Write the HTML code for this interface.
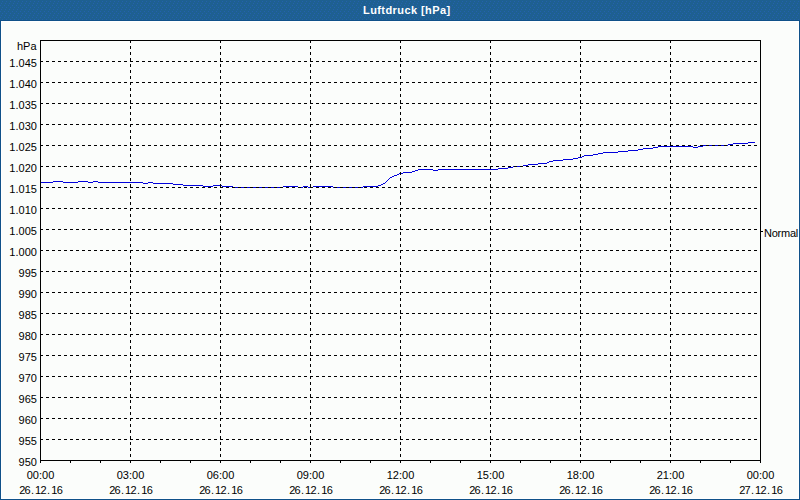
<!DOCTYPE html>
<html><head><meta charset="utf-8"><style>
html,body{margin:0;padding:0;background:#fbfdfb;}
svg{display:block;}
text{font-family:"Liberation Sans",sans-serif;font-size:11px;fill:#000;}
</style></head><body>
<svg width="800" height="500" viewBox="0 0 800 500">
<rect x="0" y="0" width="800" height="500" fill="#fbfdfb"/>
<defs><pattern id="dots" x="0" y="0" width="4" height="6" patternUnits="userSpaceOnUse"><rect width="4" height="6" fill="#1e6091"/><rect x="0" y="5" width="1" height="1" fill="#2461ae"/><rect x="2" y="1" width="1" height="1" fill="#2461ae"/><rect x="1" y="3" width="1" height="1" fill="#2461ae"/></pattern></defs>
<rect x="0" y="0" width="800" height="20" fill="url(#dots)" shape-rendering="crispEdges"/>
<rect x="0" y="20" width="800" height="1" fill="#0f5189"/>
<rect x="1" y="21" width="797" height="477" fill="none" stroke="#fff" stroke-width="1" transform="translate(0.5 0.5)" shape-rendering="crispEdges"/>
<rect x="0" y="20" width="1" height="480" fill="#0f5189"/>
<rect x="799" y="20" width="1" height="480" fill="#0f5189"/>
<rect x="0" y="499" width="800" height="1" fill="#0f5189"/>
<text x="406.8" y="14" text-anchor="middle" style="font-weight:bold;fill:#fff;letter-spacing:0.42px">Luftdruck [hPa]</text>
<path d="M41 182h12v1h-12zM53 181h10v1h-10zM63 182h15v1h-15zM78 181h10v1h-10zM88 182h5v1h-5zM93 181h5v1h-5zM98 182h45v1h-45zM143 183h5v1h-5zM148 182h5v1h-5zM153 183h20v1h-20zM173 184h10v1h-10zM183 185h20v1h-20zM203 186h10v1h-10zM213 185h9v1h-9zM222 186h11v1h-11zM233 187h50v1h-50zM283 186h15v1h-15zM298 187h5v1h-5zM303 186h5v1h-5zM308 187h5v1h-5zM313 186h20v1h-20zM333 187h30v1h-30zM363 186h15v1h-15zM378 185h3v1h-3zM381 184h2v1h-2zM383 183h2v1h-2zM385 182h1v1h-1zM386 181h1v1h-1zM387 180h1v1h-1zM388 179h1v1h-1zM389 178h1v1h-1zM390 177h2v1h-2zM392 176h2v1h-2zM394 175h3v1h-3zM397 174h2v1h-2zM399 173h4v1h-4zM403 172h9v1h-9zM412 171h3v1h-3zM415 170h3v1h-3zM418 169h15v1h-15zM433 170h5v1h-5zM438 169h60v1h-60zM498 168h10v1h-10zM508 167h5v1h-5zM513 166h10v1h-10zM523 165h5v1h-5zM528 164h10v1h-10zM538 163h9v1h-9zM547 162h2v1h-2zM549 161h4v1h-4zM553 160h10v1h-10zM563 159h10v1h-10zM573 158h5v1h-5zM578 157h4v1h-4zM582 156h2v1h-2zM584 155h9v1h-9zM593 154h5v1h-5zM598 153h5v1h-5zM603 152h15v1h-15zM618 151h10v1h-10zM628 150h10v1h-10zM638 149h5v1h-5zM643 148h10v1h-10zM653 147h5v1h-5zM658 146h35v1h-35zM693 147h5v1h-5zM698 146h5v1h-5zM703 145h25v1h-25zM728 144h5v1h-5zM733 143h15v1h-15zM748 142h7v1h-7z" fill="#0202dc" shape-rendering="crispEdges"/>
<path d="M40 61.5H760M40 82.5H760M40 103.5H760M40 124.5H760M40 145.5H760M40 166.5H760M40 187.5H760M40 208.5H760M40 229.5H760M40 250.5H760M40 271.5H760M40 292.5H760M40 313.5H760M40 334.5H760M40 355.5H760M40 376.5H760M40 397.5H760M40 418.5H760M40 439.5H760M130.5 40V460M220.5 40V460M310.5 40V460M400.5 40V460M490.5 40V460M580.5 40V460M670.5 40V460" stroke="#000" stroke-width="1" stroke-dasharray="3 3" fill="none" shape-rendering="crispEdges"/>
<rect x="40.5" y="40.5" width="720" height="420" stroke="#000" stroke-width="1" fill="none" shape-rendering="crispEdges"/>
<path d="M40 461h1v2h-1zM70 461h1v2h-1zM100 461h1v2h-1zM130 461h1v2h-1zM160 461h1v2h-1zM190 461h1v2h-1zM220 461h1v2h-1zM250 461h1v2h-1zM280 461h1v2h-1zM310 461h1v2h-1zM340 461h1v2h-1zM370 461h1v2h-1zM400 461h1v2h-1zM430 461h1v2h-1zM460 461h1v2h-1zM490 461h1v2h-1zM520 461h1v2h-1zM550 461h1v2h-1zM580 461h1v2h-1zM610 461h1v2h-1zM640 461h1v2h-1zM670 461h1v2h-1zM700 461h1v2h-1zM730 461h1v2h-1zM760 461h1v2h-1z" fill="#000" shape-rendering="crispEdges"/>
<path d="M761 231h2v1h-2z" fill="#000" shape-rendering="crispEdges"/>
<text x="36.5" y="50" text-anchor="end">hPa</text>
<text x="36.9" y="67" text-anchor="end">1.045</text><text x="36.9" y="88" text-anchor="end">1.040</text><text x="36.9" y="109" text-anchor="end">1.035</text><text x="36.9" y="130" text-anchor="end">1.030</text><text x="36.9" y="151" text-anchor="end">1.025</text><text x="36.9" y="172" text-anchor="end">1.020</text><text x="36.9" y="193" text-anchor="end">1.015</text><text x="36.9" y="214" text-anchor="end">1.010</text><text x="36.9" y="235" text-anchor="end">1.005</text><text x="36.9" y="256" text-anchor="end">1.000</text><text x="36.9" y="277" text-anchor="end">995</text><text x="36.9" y="298" text-anchor="end">990</text><text x="36.9" y="319" text-anchor="end">985</text><text x="36.9" y="340" text-anchor="end">980</text><text x="36.9" y="361" text-anchor="end">975</text><text x="36.9" y="382" text-anchor="end">970</text><text x="36.9" y="403" text-anchor="end">965</text><text x="36.9" y="424" text-anchor="end">960</text><text x="36.9" y="445" text-anchor="end">955</text><text x="36.9" y="466" text-anchor="end">950</text>
<text x="40.5" y="479" text-anchor="middle">00:00</text><text x="19.25 24.44 30.90 35.06 40.55 47.00 51.16 56.64" y="494">26.12.16</text><text x="130.5" y="479" text-anchor="middle">03:00</text><text x="109.25 114.44 120.90 125.06 130.55 137.00 141.16 146.64" y="494">26.12.16</text><text x="220.5" y="479" text-anchor="middle">06:00</text><text x="199.25 204.44 210.90 215.06 220.55 227.00 231.16 236.64" y="494">26.12.16</text><text x="310.5" y="479" text-anchor="middle">09:00</text><text x="289.25 294.44 300.90 305.06 310.55 317.00 321.16 326.64" y="494">26.12.16</text><text x="400.5" y="479" text-anchor="middle">12:00</text><text x="379.25 384.44 390.90 395.06 400.55 407.00 411.16 416.64" y="494">26.12.16</text><text x="490.5" y="479" text-anchor="middle">15:00</text><text x="469.25 474.44 480.90 485.06 490.55 497.00 501.16 506.64" y="494">26.12.16</text><text x="580.5" y="479" text-anchor="middle">18:00</text><text x="559.25 564.44 570.90 575.06 580.55 587.00 591.16 596.64" y="494">26.12.16</text><text x="670.5" y="479" text-anchor="middle">21:00</text><text x="649.25 654.44 660.90 665.06 670.55 677.00 681.16 686.64" y="494">26.12.16</text><text x="760.5" y="479" text-anchor="middle">00:00</text><text x="739.25 744.44 750.90 755.06 760.55 767.00 771.16 776.64" y="494">27.12.16</text>
<text x="764" y="237" style="letter-spacing:-0.25px">Normal</text>
</svg>
</body></html>
